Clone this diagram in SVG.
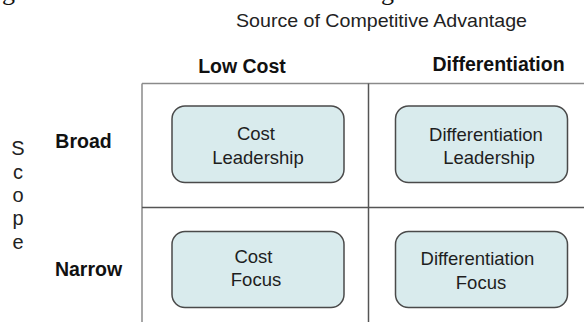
<svg xmlns="http://www.w3.org/2000/svg" width="584" height="322" viewBox="0 0 584 322">
<style>
  .bg { fill: #ffffff; }
  .grid { stroke: #8a8a8a; stroke-width: 1.5; fill: none; }
  .gridmid { stroke: #555555; stroke-width: 1.5; fill: none; }
  .box { fill: #d9ebed; stroke: #4a4a4a; stroke-width: 1.5; }
  .lbl { font-family: "Liberation Sans", Arial, sans-serif; font-size: 18.5px; fill: #1e1e1e; text-anchor: middle; }
  .hdr { font-family: "Liberation Sans", Arial, sans-serif; font-size: 19.5px; font-weight: bold; fill: #111111; text-anchor: middle; }
  .title { font-family: "Liberation Sans", Arial, sans-serif; font-size: 18.5px; fill: #222222; }
  .scope { font-family: "Liberation Sans", Arial, sans-serif; font-size: 20px; fill: #222222; text-anchor: middle; }
  .frag { font-family: "Liberation Serif", "Times New Roman", serif; font-size: 26px; fill: #111111; }
</style>
<rect class="bg" x="0" y="0" width="584" height="322"/>

<g id="caption-fragment">
  <text class="frag" x="2" y="0">g</text>
  <text class="frag" x="381" y="0">g</text>
</g>

<g id="title">
  <text class="title" x="236" y="27" textLength="291" lengthAdjust="spacingAndGlyphs">Source of Competitive Advantage</text>
</g>

<g id="col-headers">
  <text class="hdr" x="242" y="72.5">Low Cost</text>
  <text class="hdr" x="498.5" y="71">Differentiation</text>
</g>

<g id="row-headers">
  <text class="hdr" x="83.5" y="147.5">Broad</text>
  <text class="hdr" x="88.5" y="276">Narrow</text>
</g>

<g id="scope-label">
  <text class="scope" x="18" y="155">S</text>
  <text class="scope" x="18" y="178.5">c</text>
  <text class="scope" x="18" y="201.5">o</text>
  <text class="scope" x="18" y="224.5">p</text>
  <text class="scope" x="18" y="249">e</text>
</g>

<g id="grid">
  <line class="grid" x1="142" y1="83.5" x2="584" y2="83.5"/>
  <line class="grid" x1="142" y1="83.5" x2="142" y2="322"/>
  <line class="gridmid" x1="368.5" y1="83.5" x2="368.5" y2="322"/>
  <line class="gridmid" x1="142" y1="207.5" x2="584" y2="207.5"/>
</g>

<g id="cost-leadership">
  <rect class="box" x="172" y="106" width="172" height="76.5" rx="13"/>
  <text class="lbl" x="256" y="140">Cost</text>
  <text class="lbl" x="258" y="163.5">Leadership</text>
</g>

<g id="differentiation-leadership">
  <rect class="box" x="395.5" y="106" width="172" height="76.5" rx="13"/>
  <text class="lbl" x="486" y="140.5">Differentiation</text>
  <text class="lbl" x="489" y="164">Leadership</text>
</g>

<g id="cost-focus">
  <rect class="box" x="172" y="231.5" width="172" height="76" rx="13"/>
  <text class="lbl" x="253.5" y="262.5">Cost</text>
  <text class="lbl" x="256" y="285.5">Focus</text>
</g>

<g id="differentiation-focus">
  <rect class="box" x="395.5" y="231.5" width="172" height="76" rx="13"/>
  <text class="lbl" x="477.5" y="265">Differentiation</text>
  <text class="lbl" x="481" y="288.5">Focus</text>
</g>
</svg>
